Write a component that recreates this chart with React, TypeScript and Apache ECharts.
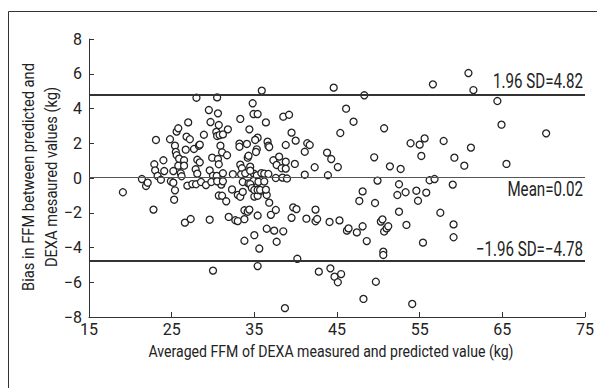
import React, { useEffect, useRef } from "react";
import * as echarts from "echarts";

const xTicks = [15, 25, 35, 45, 55, 65, 75];
const yTicks = [-8, -6, -4, -2, 0, 2, 4, 6, 8];
const meanBias = 0.02;
const upperLoA = 4.82;
const lowerLoA = -4.78;
const xTitle = "Averaged FFM of DEXA measured and predicted value (kg)";
const yTitleLines = ["Bias in FFM between predicted and", "DEXA mesaured values (kg)"];

// [averaged FFM (kg), bias (kg)]
const leftPoints: [number, number][] = [
  [19.1, -0.82], [21.4, -0.06], [21.9, -0.46], [22.1, -0.27], [22.8, -1.82], [23.1, 2.19], [22.9, 0.79],
  [23.0, 0.44], [23.3, 0.12], [23.7, -0.1], [24.0, 1.02], [24.1, 0.4], [24.8, 2.23], [24.9, -0.19],
  [25.2, 0.4], [25.2, -0.27], [25.3, -1.25], [25.4, 1.86], [25.5, 1.5], [25.6, 1.31], [25.6, 2.67],
  [25.8, 2.86], [25.8, 0.71], [25.9, 1.11], [26.1, 0.27], [26.2, 0.1], [25.4, -0.71], [26.5, 1.02],
  [26.5, 0.71], [26.7, 1.63], [26.8, 2.38], [26.9, -0.44], [27.0, 3.2], [27.2, 2.23], [26.6, -2.57],
  [27.3, -2.36], [27.5, -0.35], [27.7, 1.67], [27.9, 0.5], [28.0, 4.62], [28.1, 1.05], [28.3, 1.86],
  [28.4, 1.92], [28.4, 0.9], [28.1, 0.25], [27.95, -0.36], [28.55, -0.23], [28.9, 2.49], [29.15, -0.41],
  [29.5, 3.91], [29.6, 0.44], [29.7, 3.22], [29.9, 1.17], [30.0, 0.13], [30.45, 0.12], [30.5, 4.64],
  [30.6, 1.09], [30.6, 3.72], [30.4, 2.65], [30.5, 2.42], [30.7, 0.79], [30.7, 3.05], [30.8, 2.47],
  [30.9, 1.86], [31.1, 1.48], [31.2, 0.27], [31.2, 2.51], [31.0, -0.38], [31.7, 1.31], [31.8, 2.8],
  [30.0, -5.33], [29.6, -2.4], [30.7, -1.01], [31.1, -1.02], [31.6, -1.34], [31.9, -2.24], [32.3, -0.66],
  [32.7, -2.43], [33.0, -2.48], [33.0, -0.97], [33.3, -1.08], [33.6, -0.8], [33.8, -2.37], [33.8, -1.86],
  [34.2, -1.94], [34.4, -1.82], [33.8, -3.61], [35.0, -3.29], [35.4, -2.16], [35.4, -5.07], [35.6, -4.06],
  [35.0, -1.07], [35.4, -1.02], [35.8, -0.73], [36.5, -0.98], [36.8, -1.42], [37.0, -2.12], [37.6, -1.84],
  [36.5, -2.92], [37.4, -3.03], [38.5, -3.07], [37.7, -3.67], [38.7, -7.49], [39.5, -2.29], [39.7, -1.69],
  [40.1, -1.79], [40.2, -4.65], [29.8, -0.23], [30.5, -0.19], [31.2, -0.19],
];

const middlePoints: [number, number][] = [
  [32.4, 0.22], [33.2, 1.98], [33.2, 1.8], [33.3, 3.4], [33.3, 0.77], [33.5, 0.56], [34.1, 1.96],
  [34.2, 1.17], [34.3, 1.28], [34.4, 2.8], [34.5, 0.65], [34.8, 4.3], [34.9, 3.68], [35.4, 3.68],
  [35.4, 2.32], [35.1, 2.19], [35.3, 1.65], [35.2, 1.5], [35.9, 5.03], [36.4, 3.2], [36.6, 2.09],
  [36.7, 1.86], [36.8, 1.78], [38.5, 3.53], [39.2, 3.64], [38.8, 1.9], [39.5, 2.61], [40.0, 2.15],
  [39.9, 0.81], [37.3, 1.02], [37.7, 0.75], [38.0, 1.23], [38.3, 0.56], [38.8, 0.54], [38.8, 0.94],
  [37.6, 0.0], [38.4, 0.02], [38.95, -0.03], [34.95, 0.25], [35.3, 0.15], [35.85, 0.28], [36.2, 0.25],
  [36.7, 0.23], [33.6, -0.23], [34.3, -0.31], [34.9, -0.17], [35.5, -0.22], [36.2, -0.2], [34.5, -0.35],
  [34.7, -0.58], [35.0, -0.69], [35.4, -0.69], [35.7, -0.69], [36.4, -0.67], [33.4, 0.21], [33.9, 0.27],
  [34.5, 0.42],
];

const rightPoints: [number, number][] = [
  [44.6, 5.2], [48.3, 4.76], [56.6, 5.39], [46.1, 3.99], [47.0, 3.24], [45.4, 2.59], [50.7, 2.86],
  [41.4, 2.0], [41.7, 1.9], [41.1, 1.51], [43.8, 1.46], [44.3, 1.09], [42.3, 0.62], [45.1, 0.63],
  [41.1, 0.19], [43.9, 0.16], [49.5, 1.19], [51.4, 0.67], [52.7, 0.52], [53.9, 2.0], [55.0, 1.92],
  [55.6, 2.28], [55.2, 1.27], [57.9, 2.13], [49.9, -0.15], [52.5, -0.36], [56.2, -0.13], [56.8, -0.06],
  [48.1, -0.77], [47.7, -1.32], [49.6, -1.44], [52.3, -0.98], [53.3, -0.82], [54.6, -0.73], [55.8, -0.84],
  [54.8, -1.31], [42.4, -1.82], [41.3, -2.34], [42.4, -2.49], [42.6, -2.36], [44.1, -2.53], [45.3, -2.44],
  [46.2, -3.03], [46.4, -2.9], [47.4, -3.13], [48.1, -2.78], [48.6, -3.63], [50.3, -2.51], [50.5, -2.38],
  [50.7, -3.08], [51.0, -2.9], [51.2, -2.78], [52.5, -1.94], [53.4, -2.7], [55.4, -3.72], [57.5, -2.0],
  [50.6, -4.24], [50.6, -4.43], [42.8, -5.39], [44.2, -5.2], [44.7, -5.68], [45.1, -6.0], [45.5, -5.53],
  [49.7, -5.97], [48.2, -6.96], [54.1, -7.25], [60.9, 6.04], [61.5, 5.06], [64.4, 4.43], [64.9, 3.07],
  [70.3, 2.57], [61.2, 1.75], [59.2, 1.17], [60.4, 0.71], [65.5, 0.81], [59.0, -0.38], [59.1, -2.67],
  [59.1, -3.41],
];

const FONT = "Roboto, 'Liberation Sans', sans-serif";
const INK = "#222";

const fmt = (v: number, digits = 0) =>
  (v < 0 ? "\u2212" : "") + Math.abs(v).toFixed(digits);

let measureCtx: CanvasRenderingContext2D | null = null;
function textWidth(text: string, size: number): number {
  if (!measureCtx) measureCtx = document.createElement("canvas").getContext("2d");
  if (!measureCtx) return text.length * size * 0.5;
  measureCtx.font = `${size}px ${FONT}`;
  return measureCtx.measureText(text).width;
}

export default function App() {
  const ref = useRef<HTMLDivElement>(null);
  useEffect(() => {
    if (!ref.current) return;
    const chart = echarts.init(ref.current, undefined, { renderer: "svg" });
    const allPoints = [...leftPoints, ...middlePoints, ...rightPoints];
    chart.setOption({
      animation: false,
      backgroundColor: "#fff",
      grid: { left: 89, right: 12, top: 39, bottom: 71, containLabel: false, outerBoundsMode: "none" },
      xAxis: {
        type: "value",
        min: xTicks[0],
        max: xTicks[xTicks.length - 1],
        interval: 10,
        splitLine: { show: false },
        axisLine: { onZero: false, lineStyle: { color: "#333", width: 1 } },
        axisTick: { inside: true, length: 5, lineStyle: { color: "#333" } },
        axisLabel: { margin: 4, color: INK, fontSize: 16, fontFamily: FONT },
      },
      yAxis: {
        type: "value",
        min: yTicks[0],
        max: yTicks[yTicks.length - 1],
        interval: 2,
        splitLine: { show: false },
        axisLine: { show: true, onZero: false, lineStyle: { color: "#333", width: 1 } },
        axisTick: { show: true, inside: true, length: 5, lineStyle: { color: "#333" } },
        axisLabel: {
          margin: 7,
          color: INK,
          fontSize: 16,
          fontFamily: FONT,
          formatter: (v: number) => fmt(v),
        },
      },
      series: [
        {
          type: "scatter",
          data: allPoints,
          symbol: "circle",
          symbolSize: 7,
          itemStyle: { color: "#fff", borderColor: "#222", borderWidth: 1.3, opacity: 1 },
          z: 3,
          markLine: {
            silent: true,
            symbol: ["none", "none"],
            animation: false,
            label: { show: false },
            data: [
              { yAxis: upperLoA, lineStyle: { color: "#333", width: 2, type: "solid" } },
              { yAxis: meanBias, lineStyle: { color: "#555", width: 1, type: "solid" } },
              { yAxis: lowerLoA, lineStyle: { color: "#333", width: 2, type: "solid" } },
            ],
          },
        },
      ],
    });

    // Texts in a condensed look: measured and squeezed horizontally.
    const annSize = 20;
    const upperText = `1.96 SD=${fmt(upperLoA, 2)}`;
    const meanText = `Mean=${fmt(meanBias, 2)}`;
    const lowerText = `${fmt(-1.96, 2)} SD=${fmt(lowerLoA, 2)}`;
    const annScale = 90 / textWidth(upperText, annSize);
    const xEnd = chart.convertToPixel({ xAxisIndex: 0 }, xTicks[xTicks.length - 1]) as number;
    const yUp = chart.convertToPixel({ yAxisIndex: 0 }, upperLoA) as number;
    const yMean = chart.convertToPixel({ yAxisIndex: 0 }, meanBias) as number;
    const yLow = chart.convertToPixel({ yAxisIndex: 0 }, lowerLoA) as number;

    const titleSize = 17;
    const xTitleScale = 365 / textWidth(xTitle, titleSize);
    const yTitleScale = 228 / textWidth(yTitleLines[0], titleSize);

    const ann = (text: string, y: number) => ({
      type: "text",
      x: xEnd - 2,
      y,
      scaleX: annScale,
      style: { text, align: "right", verticalAlign: "middle", font: `${annSize}px ${FONT}`, fill: INK },
      silent: true,
    });

    chart.setOption({
      graphic: [
        {
          type: "rect",
          shape: { x: 8.5, y: 11.5, width: 700, height: 500 },
          style: { fill: "none", stroke: "#333", lineWidth: 1 },
          silent: true,
        },
        {
          type: "text",
          x: 331,
          y: 352,
          scaleX: xTitleScale,
          style: { text: xTitle, align: "center", verticalAlign: "middle", font: `${titleSize}px ${FONT}`, fill: INK },
          silent: true,
        },
        {
          type: "text",
          x: 40,
          y: 177,
          rotation: Math.PI / 2,
          scaleX: yTitleScale,
          style: {
            text: yTitleLines.join("\n"),
            align: "center",
            verticalAlign: "middle",
            lineHeight: 23,
            font: `${titleSize}px ${FONT}`,
            fill: INK,
          },
          silent: true,
        },
        ann(upperText, yUp - 13),
        ann(meanText, yMean + 12),
        ann(lowerText, yLow - 11.5),
      ],
    });
    return () => chart.dispose();
  }, []);
  return (
    <div
      ref={ref}
      style={{ position: "fixed", left: 0, top: 0, width: 597, height: 388, background: "#fff" }}
    />
  );
}
